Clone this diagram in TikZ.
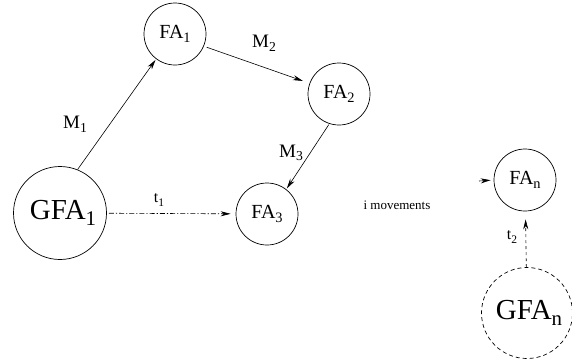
\documentclass[tikz,border=0pt]{standalone}
\usepackage{fontspec}
\usepackage{graphicx}
\setmainfont{Liberation Serif}
\usetikzlibrary{arrows.meta}
\newcommand{\subx}[1]{\raisebox{-0.42ex}{\scalebox{0.72}{#1}}}
\begin{document}
\begin{tikzpicture}[x=1pt,y=-1pt,
  fa/.style={draw, circle, line width=0.7pt, inner sep=0pt, minimum size=62pt, font=\fontsize{20}{20}\selectfont},
  gfa/.style={draw, circle, line width=0.7pt, inner sep=0pt, minimum size=93pt, font=\fontsize{29}{29}\selectfont},
  arr/.style={line width=0.6pt, -{Stealth[length=10pt,width=5pt]}},
  lbl/.style={font=\fontsize{19}{19}\selectfont, inner sep=0pt},
  tl/.style={font=\fontsize{16}{16}\selectfont, inner sep=0pt},
  small/.style={font=\fontsize{13}{13}\selectfont, inner sep=0pt}]
\useasboundingbox (0,0) rectangle (572,362);
\node[fa] (FA1) at (175,34) {FA\subx{1}};
\node[fa] (FA2) at (339,94) {FA\subx{2}};
\node[fa] (FA3) at (267,214) {FA\subx{3}};
\node[gfa] (GFA1) at (60,213) {\hspace*{6pt}GFA\subx{1}};
\node[fa] (FAn) at (525,180) {FA\subx{n}};
\node[gfa, dash pattern=on 4pt off 3pt, minimum size=91pt] (GFAn) at (527,313) {\hspace*{4pt}GFA\subx{n}};

\draw[arr, shorten >=1pt] (GFA1.68) -- (FA1.233);
\draw[arr, shorten <=3pt, shorten >=7pt] (FA1.337) -- (FA2.160);
\draw[arr, shorten <=1pt, shorten >=1pt] (FA2.252) -- (FA3.52);
\draw[arr, dash pattern=on 5pt off 2pt on 1.2pt off 2pt, shorten <=2pt, shorten >=5pt] (GFA1) -- (FA3);
\draw[arr, dash pattern=on 3pt off 3pt, shorten >=8pt] (GFAn) -- (FAn);
\coordinate (stub) at (479,181);
\draw[arr, shorten >=3pt] (stub) -- (FAn.west);

\node[lbl] (m1) at (75,124) {M\subx{1}};
\node[lbl] (m2) at (264,43) {M\subx{2}};
\node[lbl] (m3) at (291,153) {M\subx{3}};
\node[tl] (t1) at (159,200) {t\subx{1}};
\node[tl] (t2) at (512,237) {t\subx{2}};
\node[small] (im) at (397,205) {i movements};
\end{tikzpicture}
\end{document}
